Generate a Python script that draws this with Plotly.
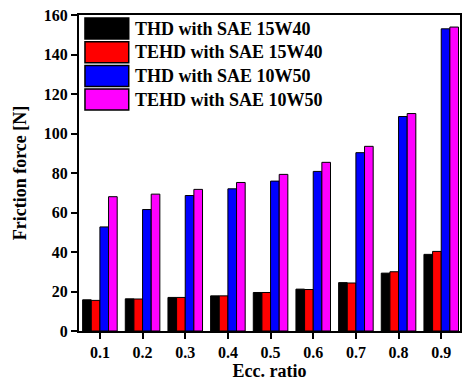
import plotly.graph_objects as go

ecc = [0.1, 0.2, 0.3, 0.4, 0.5, 0.6, 0.7, 0.8, 0.9]
thd_15w40 = [15.8, 16.3, 17.0, 17.8, 19.5, 21.2, 24.5, 29.3, 38.8]
tehd_15w40 = [15.5, 16.2, 17.0, 17.8, 19.5, 21.0, 24.3, 30.0, 40.3]
thd_10w50 = [52.7, 61.5, 68.6, 72.0, 75.9, 80.8, 90.3, 108.6, 153.0]
tehd_10w50 = [68.0, 69.3, 71.7, 75.2, 79.3, 85.4, 93.5, 110.1, 153.9]
names = ["THD with SAE 15W40", "TEHD with SAE 15W40", "THD with SAE 10W50", "TEHD with SAE 10W50"]
colors = ["#000000", "#ff0000", "#0000ff", "#ff00ff"]
series = [thd_15w40, tehd_15w40, thd_10w50, tehd_10w50]
yticks = [0, 20, 40, 60, 80, 100, 120, 140, 160]

font_fam = "Liberation Serif, Times New Roman, serif"

fig = go.Figure()
for n, c, s in zip(names, colors, series):
    fig.add_trace(go.Bar(x=ecc, y=s, name=n, marker=dict(color=c, line=dict(color="black", width=1)),
                         showlegend=False))

# plot area in px: x 79..462, y 15..331
L, R, T, B = 79, 462, 15, 331
W, H = R - L, B - T
def px(x):
    return (x - L) / W
def py(y):
    return (B - y) / H

shapes = []
annotations = []
row_top = 18
row_h = 21
pitch = 23.7
for i, (n, c) in enumerate(zip(names, colors)):
    y0 = row_top + i * pitch
    y1 = y0 + row_h
    shapes.append(dict(type="rect", xref="paper", yref="paper",
                       x0=px(85), x1=px(129), y0=py(y1), y1=py(y0),
                       fillcolor=c, line=dict(color="black", width=1.5)))
    annotations.append(dict(xref="paper", yref="paper", x=px(133), y=py((y0 + y1) / 2),
                            text=f"<b>{n}</b>", showarrow=False, xanchor="left", yanchor="middle",
                            font=dict(family=font_fam, size=18, color="black")))

fig.update_layout(
    width=464, height=381,
    margin=dict(l=L, r=464 - R, t=T, b=381 - B),
    paper_bgcolor="white", plot_bgcolor="white",
    barmode="group", bargap=0.19, bargroupgap=0,
    font=dict(family=font_fam, color="black"),
    shapes=shapes, annotations=annotations,
    xaxis=dict(range=[0.051, 0.944], tickvals=ecc, ticktext=[f"<b>{v}</b>" for v in ecc],
               ticks="outside", ticklen=6, tickwidth=2, tickcolor="black",
               showline=True, linewidth=2, linecolor="black", mirror=True,
               showgrid=False, zeroline=False,
               tickfont=dict(family=font_fam, size=16, color="black"),
               title=dict(text="<b>Ecc. ratio</b>", font=dict(family=font_fam, size=18), standoff=4)),
    yaxis=dict(range=[0, 160], tickvals=yticks, ticktext=[f"<b>{v}</b>" for v in yticks],
               ticks="outside", ticklen=6, tickwidth=2, tickcolor="black",
               showline=True, linewidth=2, linecolor="black", mirror=True,
               showgrid=False, zeroline=False,
               tickfont=dict(family=font_fam, size=16, color="black"),
               title=dict(text="<b>Friction force [N]</b>", font=dict(family=font_fam, size=18), standoff=12)),
)

fig.write_html("out.html")
